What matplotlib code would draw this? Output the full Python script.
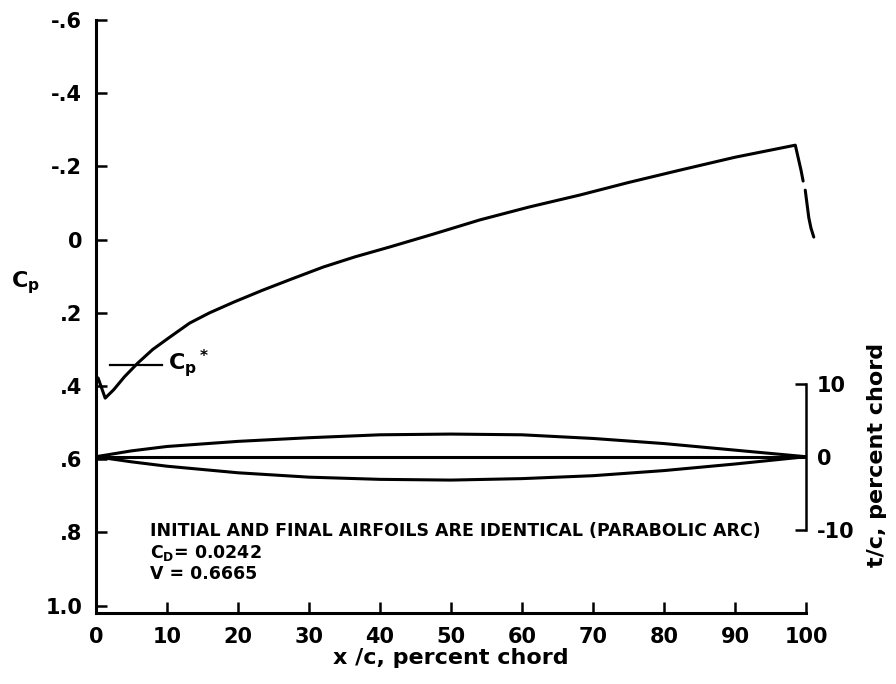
import numpy as np
import matplotlib.pyplot as plt

# =============================================================================
# Data
# =============================================================================

# Pressure distribution (nan marks the small break in the trailing drop)
cp_x = [0.3, 1.3, 2.5, 4.0, 5.9, 8.0, 10.5, 13.2, 16.0, 19.5, 23.5, 27.5,
        32.0, 36.5, 41.4, 47.5, 54.1, 61.0, 68.2, 75.0, 82.3, 90.0, 98.5,
        99.3, 99.6, np.nan, 99.9, 100.4, 100.7, 101.1]
cp_y = [0.378, 0.433, 0.410, 0.375, 0.337, 0.300, 0.265, 0.228, 0.200, 0.170,
        0.138, 0.108, 0.075, 0.047, 0.020, -0.015, -0.054, -0.089, -0.122,
        -0.156, -0.190, -0.225, -0.258, -0.19, -0.160, np.nan, -0.135, -0.06,
        -0.032, -0.007]

# Critical pressure coefficient marker
cp_star = 0.343
cp_star_x = [2.0, 9.3]

# Airfoil thickness (percent chord)
foil_x = [0, 5, 10, 20, 30, 40, 50, 60, 70, 80, 90, 100]
foil_upper = [0, 0.8, 1.4, 2.1, 2.6, 3.0, 3.1, 3.0, 2.5, 1.8, 0.9, 0]
foil_lower = [0, -0.7, -1.3, -2.2, -2.8, -3.1, -3.2, -3.0, -2.6, -1.9, -1.0, 0]
foil_camber = [0] * len(foil_x)

# Axes ticks
cp_ticks = [-0.6, -0.4, -0.2, 0, 0.2, 0.4, 0.6, 0.8, 1.0]
cp_tick_labels = ["-.6", "-.4", "-.2", "0", ".2", ".4", ".6", ".8", "1.0"]
x_ticks = [0, 10, 20, 30, 40, 50, 60, 70, 80, 90, 100]
tc_ticks = [-10, 0, 10]
tc_tick_labels = ["-10", "0", "10"]

note_lines = [
    "INITIAL AND FINAL AIRFOILS ARE IDENTICAL (PARABOLIC ARC)",
    r"C$_D$= 0.0242",
    "V = 0.6665",
]

# =============================================================================
# Style
# =============================================================================

plt.rcParams["font.family"] = "DejaVu Sans"
plt.rcParams["font.weight"] = "bold"
plt.rcParams["axes.labelweight"] = "bold"
plt.rcParams["mathtext.fontset"] = "custom"
plt.rcParams["mathtext.rm"] = "DejaVu Sans:bold"
plt.rcParams["mathtext.it"] = "DejaVu Sans:bold"
plt.rcParams["mathtext.default"] = "regular"

LW = 2.2
TICK_FS = 15

fig = plt.figure(figsize=(8.96, 6.84), dpi=100)
ax = fig.add_axes([0.1071, 0.1038, 0.7924, 0.8670])

ax.plot(cp_x, cp_y, color="black", lw=LW, clip_on=False,
        solid_capstyle="round", solid_joinstyle="round")
ax.plot(cp_star_x, [cp_star, cp_star], color="black", lw=1.6)
ax.text(10.1, cp_star - 0.005, r"C$_p$$^*$", fontsize=16, va="center",
        ha="left")

ax.set_xlim(0, 100)
ax.set_ylim(1.02, -0.6)
ax.set_yticks(cp_ticks)
ax.set_yticklabels(cp_tick_labels)
ax.set_xticks(x_ticks)

for side in ["top", "right"]:
    ax.spines[side].set_visible(False)
for side in ["left", "bottom"]:
    ax.spines[side].set_linewidth(2.2)

ax.tick_params(direction="in", length=8, width=1.8, labelsize=TICK_FS,
               pad=10)

ax.set_xlabel("x /c, percent chord", fontsize=16, labelpad=1)
fig.text(25 / 896, 1 - 283 / 684, r"C$_p$", fontsize=16, ha="center",
         va="center")

for i, line in enumerate(note_lines):
    ax.text(7.6, 0.797 + i * 0.058, line, fontsize=12.5, ha="left",
            va="center", family="DejaVu Sans Condensed")

# Airfoil on the thickness scale
ax2 = ax.twinx()
ax2.set_position(ax.get_position())
ax2.plot(foil_x, foil_upper, color="black", lw=LW)
ax2.plot(foil_x, foil_lower, color="black", lw=LW)
ax2.plot(foil_x, foil_camber, color="black", lw=LW)
ax2.set_ylim(-21.4, 59.8)
ax2.set_xlim(0, 100)

for side in ["top", "left", "bottom"]:
    ax2.spines[side].set_visible(False)
ax2.spines["right"].set_bounds(-10, 10)
ax2.spines["right"].set_linewidth(1.8)
ax2.set_yticks(tc_ticks)
ax2.set_yticklabels(tc_tick_labels)
ax2.tick_params(direction="in", length=8, width=1.8, labelsize=TICK_FS,
                pad=8)

fig.text(877 / 896, 1 - 455 / 684, "t/c, percent chord", fontsize=16,
         rotation=90, ha="center", va="center")

fig.savefig("out.png", dpi=100)
